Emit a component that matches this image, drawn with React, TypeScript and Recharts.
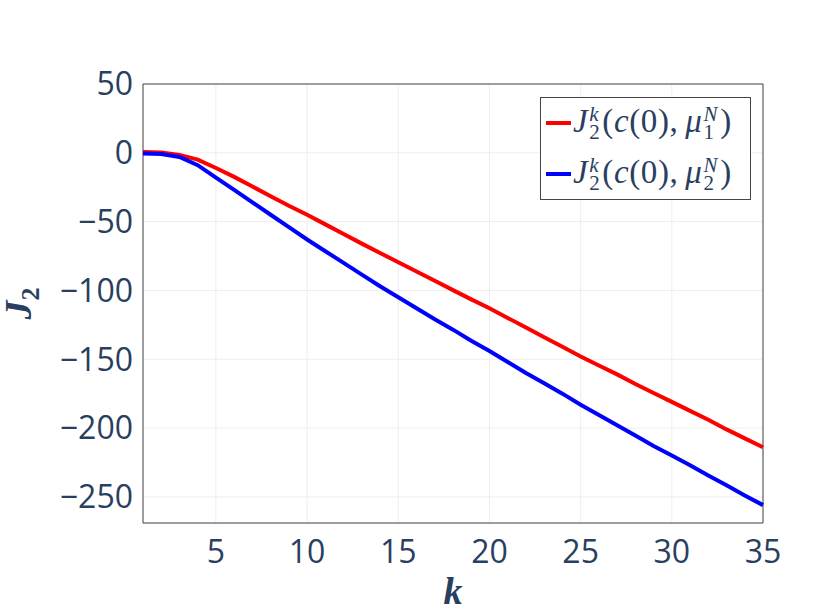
import React from "react";
import {
  LineChart,
  Line,
  XAxis,
  YAxis,
  CartesianGrid,
  Legend,
  ReferenceArea,
} from "recharts";

const ks = [
  1, 2, 3, 4, 5, 6, 7, 8, 9, 10, 11, 12, 13, 14, 15, 16, 17, 18, 19, 20, 21,
  22, 23, 24, 25, 26, 27, 28, 29, 30, 31, 32, 33, 34, 35,
];

// J_2^k(c(0), mu_1^N)
const jMu1 = [
  0.5, 0.3, -1.5, -5, -11, -17.5, -24.5, -31.5, -38.5, -45, -52, -59, -66,
  -72.8, -79.5, -86.3, -93, -99.8, -106.5, -113, -120, -127, -134, -141, -148,
  -154.5, -161, -168, -174.5, -181, -187.5, -194, -201, -207.5, -214,
];

// J_2^k(c(0), mu_2^N)
const jMu2 = [
  -0.5, -0.8, -3, -9, -18, -27, -36, -45, -54, -63, -71.5, -80, -88.5, -97,
  -105, -113, -121, -128.5, -136.5, -144, -152, -160, -167.5, -175, -183,
  -190.5, -198, -205.5, -213, -220, -227, -234.5, -241.5, -249, -256,
];

const xTicks = [5, 10, 15, 20, 25, 30, 35];
const yTicks = [-250, -200, -150, -100, -50, 0, 50];

const data = ks.map((k, i) => ({ k, mu1: jMu1[i], mu2: jMu2[i] }));

const textColor = "#2a3f5f";
const mathFont = '"Liberation Serif", "DejaVu Serif", serif';
const tickFont = '"Open Sans", sans-serif';

const fmt = (v: number) => (v < 0 ? "\u2212" + Math.abs(v) : String(v));

function Stack({ top, bottom }: { top: string; bottom: string }) {
  return (
    <span
      style={{
        display: "inline-flex",
        flexDirection: "column",
        fontSize: 21,
        lineHeight: "18px",
        verticalAlign: "11px",
        marginLeft: 1,
        marginRight: 2,
      }}
    >
      <span style={{ fontStyle: "italic" }}>{top}</span>
      <span style={{ fontStyle: "normal" }}>{bottom}</span>
    </span>
  );
}

function MathLabel({ idx }: { idx: string }) {
  const up = { fontStyle: "normal" as const };
  return (
    <span
      style={{
        fontFamily: mathFont,
        fontStyle: "italic",
        fontSize: 33,
        color: textColor,
        whiteSpace: "nowrap",
        lineHeight: "33px",
        letterSpacing: 0.6,
      }}
    >
      J
      <Stack top="k" bottom="2" />
      <span style={up}>(</span>c<span style={up}>(0),</span>
      <span style={{ display: "inline-block", width: 7 }} />μ
      <Stack top="N" bottom={idx} />
      <span style={up}>)</span>
    </span>
  );
}

function LegendBox() {
  const rows = [
    { color: "#ff0000", idx: "1" },
    { color: "#0000ff", idx: "2" },
  ];
  return (
    <div
      style={{
        boxSizing: "border-box",
        width: 211,
        height: 103,
        border: "1px solid #444",
        background: "#fff",
        paddingLeft: 5,
        display: "flex",
        flexDirection: "column",
        justifyContent: "space-around",
      }}
    >
      {rows.map((r) => (
        <div key={r.idx} style={{ display: "flex", alignItems: "center" }}>
          <span
            style={{
              display: "inline-block",
              width: 25,
              height: 4,
              background: r.color,
              marginRight: 2,
            }}
          />
          <MathLabel idx={r.idx} />
        </div>
      ))}
    </div>
  );
}

export default function App() {
  return (
    <div
      style={{
        position: "absolute",
        left: 0,
        top: 0,
        width: 831,
        height: 610,
        background: "#fff",
      }}
    >
      <LineChart
        width={831}
        height={610}
        data={data}
        margin={{ top: 84, right: 68, bottom: 0, left: 0 }}
      >
        <CartesianGrid stroke="#eeeeee" strokeWidth={1} />
        <XAxis
          dataKey="k"
          type="number"
          domain={[1, 35]}
          ticks={xTicks}
          height={87}
          tickLine={false}
          axisLine={false}
          tickSize={0}
          tickMargin={17}
          tick={{ fill: textColor, fontSize: 32, fontFamily: tickFont }}
          label={{
            content: (props: any) => {
              const vb = props.viewBox;
              return (
                <text
                  x={vb.x + vb.width / 2}
                  y={vb.y + 81}
                  textAnchor="middle"
                  fill={textColor}
                  fontFamily={mathFont}
                  fontStyle="italic"
                  fontWeight="bold"
                  fontSize={38}
                >
                  k
                </text>
              );
            },
          }}
        />
        <YAxis
          type="number"
          domain={[-269, 50]}
          ticks={yTicks}
          width={143}
          allowDataOverflow
          tickLine={false}
          axisLine={false}
          tickSize={0}
          tickMargin={10}
          tickFormatter={fmt}
          tick={{ fill: textColor, fontSize: 32, fontFamily: tickFont }}
          label={{
            content: (props: any) => {
              const vb = props.viewBox;
              const cx = 31;
              const cy = vb.y + vb.height / 2;
              return (
                <text
                  x={cx}
                  y={cy}
                  transform={`rotate(-90, ${cx}, ${cy})`}
                  textAnchor="middle"
                  fill={textColor}
                  fontFamily={mathFont}
                  fontStyle="italic"
                  fontWeight="bold"
                  fontSize={38}
                >
                  J
                  <tspan dy={8} fontSize={26} fontStyle="normal">
                    2
                  </tspan>
                </text>
              );
            },
          }}
        />
        <ReferenceArea
          x1={1}
          x2={35}
          y1={-269}
          y2={50}
          fill="none"
          stroke="#444"
          strokeWidth={1}
          ifOverflow="visible"
        />
        <Line
          type="linear"
          dataKey="mu1"
          stroke="#ff0000"
          strokeWidth={4}
          dot={false}
          isAnimationActive={false}
        />
        <Line
          type="linear"
          dataKey="mu2"
          stroke="#0000ff"
          strokeWidth={4}
          dot={false}
          isAnimationActive={false}
        />
        <Legend
          layout="vertical"
          align="center"
          verticalAlign="middle"
          content={() => <LegendBox />}
          wrapperStyle={{ left: 540, top: 97, width: 211, height: 103 }}
        />
      </LineChart>
    </div>
  );
}
